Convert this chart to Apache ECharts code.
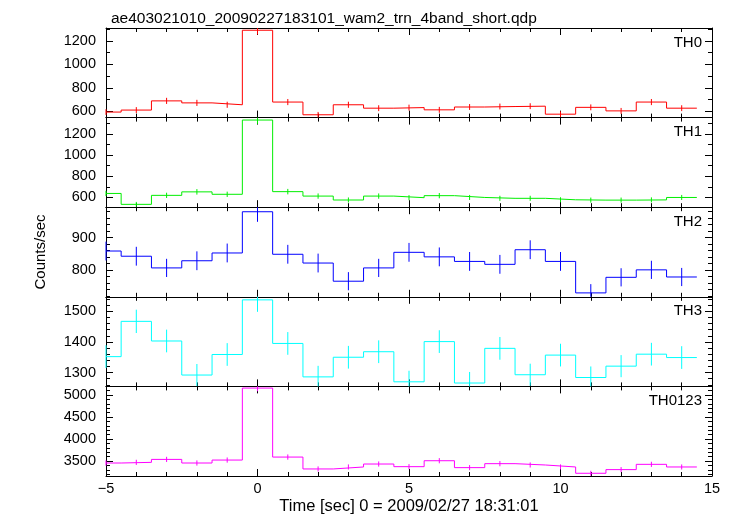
<!DOCTYPE html>
<html>
<head>
<meta charset="utf-8">
<script src="https://cdn.jsdelivr.net/npm/echarts@6/dist/echarts.min.js"></script>
<style>
html,body{margin:0;padding:0;background:#fff;}
#chart{width:733px;height:516px;}
</style>
</head>
<body>
<div id="chart"></div>
<script>
// Bin centres (seconds)
const times = [-5, -4, -3, -2, -1, 0, 1, 2, 3, 4, 5, 6, 7, 8, 9, 10, 11, 12, 13, 14];
const binHalfWidth = 0.5;

const bandNames = ['TH0', 'TH1', 'TH2', 'TH3', 'TH0123'];

const th0 = [595, 612, 690, 673, 657, 1290, 680, 572, 657, 628, 633, 614, 638, 642, 645, 577, 635, 605, 680, 628];
const th0Err = [24, 25, 26, 26, 26, 36, 26, 24, 26, 25, 25, 25, 25, 25, 25, 24, 25, 25, 26, 25];

const th1 = [638, 535, 620, 653, 630, 1332, 655, 613, 576, 613, 598, 617, 600, 592, 592, 578, 575, 575, 577, 600];
const th1Err = [25, 23, 25, 26, 25, 36, 26, 25, 24, 25, 24, 25, 24, 24, 24, 24, 24, 24, 24, 24];

const th2 = [859, 843, 807, 829, 853, 980, 849, 822, 766, 807, 855, 841, 827, 818, 863, 827, 730, 778, 801, 779];
const th2Err = [29, 29, 28, 29, 29, 31, 29, 29, 28, 28, 29, 29, 29, 29, 29, 29, 27, 28, 28, 28];

const th3 = [1352, 1467, 1403, 1292, 1359, 1537, 1395, 1286, 1350, 1368, 1270, 1401, 1266, 1379, 1293, 1357, 1284, 1321, 1360, 1349];
const th3Err = [37, 38, 37, 36, 37, 39, 37, 36, 37, 37, 36, 37, 36, 37, 36, 37, 36, 36, 37, 37];

const th0123 = [3455, 3470, 3537, 3455, 3522, 5157, 3590, 3320, 3365, 3432, 3372, 3507, 3350, 3440, 3410, 3365, 3222, 3305, 3425, 3365];
const th0123Err = [59, 59, 59, 59, 59, 72, 60, 58, 58, 59, 58, 59, 58, 59, 58, 58, 57, 57, 59, 58];

const values = [th0, th1, th2, th3, th0123];
const errors = [th0Err, th1Err, th2Err, th3Err, th0123Err];
const colors = ['#ff0000', '#00ee00', '#0000ff', '#00ffff', '#ff00ff'];

// y-axis ranges and tick settings per panel
const yMins = [548, 508, 718, 1255, 3160];
const yMaxs = [1309, 1355, 994, 1547, 5195];
const ySplits = [4, 4, 3, 3, 4];
const yMinorSplits = [2, 2, 5, 5, 5];

const xMin = -5, xMax = 15, xInterval = 5;
const title = 'ae403021010_20090227183101_wam2_trn_4band_short.qdp';
const xName = 'Time [sec] 0 = 2009/02/27 18:31:01';
const yName = 'Counts/sec';

const FONT = '"Liberation Sans", Arial, Helvetica, sans-serif';
const gridLeft = 106, gridRight = 21, gridTop0 = 28, panelH = 89.6;

function stepData(vals) {
  const d = [[times[0], vals[0]]];
  for (let i = 1; i < vals.length; i++) d.push([times[i] - binHalfWidth, vals[i]]);
  d.push([times[times.length - 1] + binHalfWidth, vals[vals.length - 1]]);
  return d;
}
function minusFmt(v) { return String(v).replace('-', '\u2212'); }
function plainFmt(v) { return String(v); }

const grids = [], xAxes = [], yAxes = [], series = [], titles = [];
titles.push({ text: title, left: 106, top: 6, textStyle: { fontFamily: FONT, fontSize: 15.5, fontWeight: 'normal', color: '#000' } });

const lineStyle = { color: '#000', width: 1 };
for (let i = 0; i < 5; i++) {
  const top = gridTop0 + i * panelH;
  grids.push({ left: gridLeft, right: gridRight, top: top, height: panelH, containLabel: false });
  titles.push({ text: bandNames[i], right: 26, top: top + 2, textStyle: { fontFamily: FONT, fontSize: 15, fontWeight: 'normal', color: '#000' } });
  const last = i === 4;
  ['bottom', 'top'].forEach(function (pos) {
    xAxes.push({
      type: 'value', gridIndex: i, position: pos, min: xMin, max: xMax, interval: xInterval,
      axisLine: { show: true, onZero: false, lineStyle: lineStyle },
      axisTick: { show: true, inside: true, length: 7, lineStyle: lineStyle },
      minorTick: { show: true, splitNumber: 5, length: 4, lineStyle: lineStyle },
      splitLine: { show: false },
      axisLabel: { show: last && pos === 'bottom', fontFamily: FONT, fontSize: 14.5, color: '#000', margin: 5, formatter: minusFmt },
      name: (last && pos === 'bottom') ? xName : '',
      nameLocation: 'middle', nameGap: 22,
      nameTextStyle: { fontFamily: FONT, fontSize: 16.5, color: '#000' }
    });
  });
  ['left', 'right'].forEach(function (pos) {
    yAxes.push({
      type: 'value', gridIndex: i, position: pos, min: yMins[i], max: yMaxs[i], splitNumber: ySplits[i],
      scale: true,
      axisLine: { show: true, onZero: false, lineStyle: lineStyle },
      axisTick: { show: true, inside: true, length: 7, lineStyle: lineStyle },
      minorTick: { show: true, splitNumber: yMinorSplits[i], length: 4, lineStyle: lineStyle },
      splitLine: { show: false },
      axisLabel: { show: pos === 'left', showMinLabel: false, showMaxLabel: false, fontFamily: FONT, fontSize: 14.5, color: '#000', margin: 10, formatter: plainFmt },
      name: (i === 2 && pos === 'left') ? yName : '',
      nameLocation: 'middle', nameGap: 58, nameRotate: 90,
      nameTextStyle: { fontFamily: FONT, fontSize: 15, color: '#000' }
    });
  });
  series.push({
    type: 'line', xAxisIndex: 2 * i, yAxisIndex: 2 * i, step: 'end', showSymbol: false, symbol: 'none',
    data: stepData(values[i]), lineStyle: { color: colors[i], width: 1 }, silent: true, clip: true
  });
  const ymin = yMins[i], ymax = yMaxs[i], col = colors[i];
  series.push({
    type: 'custom', xAxisIndex: 2 * i, yAxisIndex: 2 * i, silent: true,
    data: times.map(function (t, k) { return [t, values[i][k], errors[i][k]]; }),
    renderItem: function (params, api) {
      const x = api.value(0), y = api.value(1), e = api.value(2);
      const p1 = api.coord([x, Math.max(ymin, y - e)]);
      const p2 = api.coord([x, Math.min(ymax, y + e)]);
      return { type: 'line', shape: { x1: p1[0], y1: p1[1], x2: p2[0], y2: p2[1] }, style: { stroke: col, lineWidth: 1 } };
    }
  });
}

const chart = echarts.init(document.getElementById('chart'), null, { renderer: 'canvas' });
chart.setOption({
  animation: false,
  backgroundColor: '#fff',
  title: titles,
  grid: grids,
  xAxis: xAxes,
  yAxis: yAxes,
  series: series
});
</script>
</body>
</html>
